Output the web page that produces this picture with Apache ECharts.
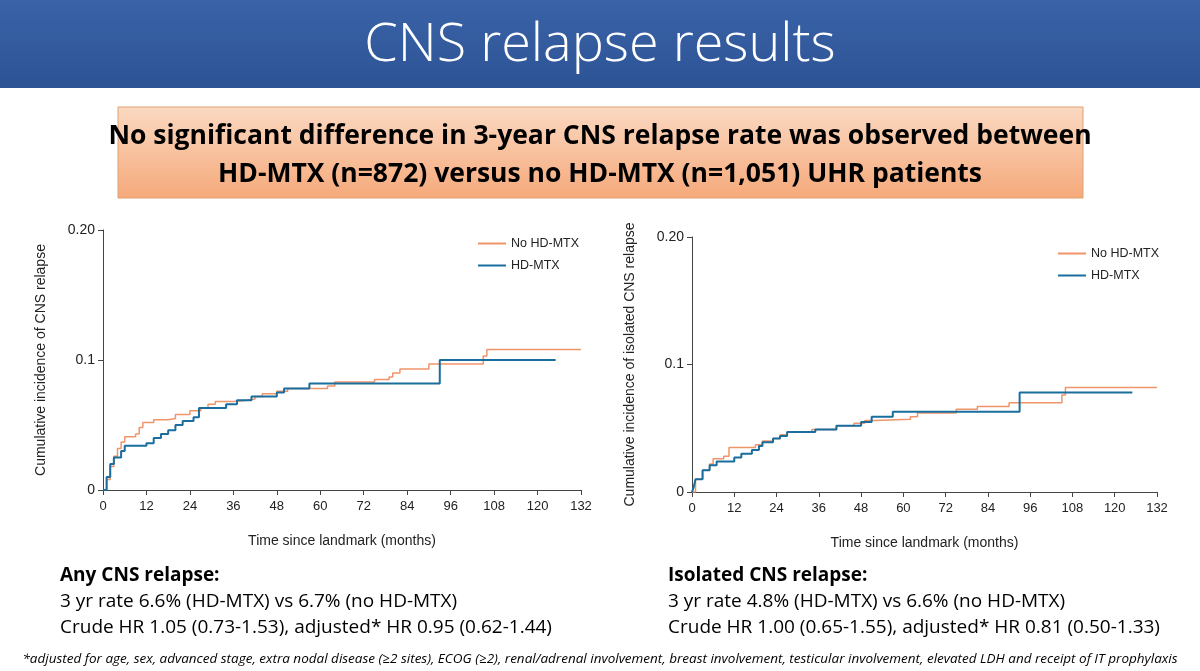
<!DOCTYPE html>
<html><head><meta charset="utf-8">
<script src="https://cdn.jsdelivr.net/npm/echarts@6/dist/echarts.min.js"></script>
<style>html,body{margin:0;padding:0;background:#fff}#c{width:1200px;height:671px}</style>
</head><body><div id="c"></div>
<script>
// [months, cumulative incidence]
const anyNoHD = [[0,0],[1,0.008],[2,0.018],[3,0.026],[4,0.032],[5,0.037],[6,0.041],[9,0.043],[10,0.048],[11,0.052],[14,0.054],[18,0.055],[20,0.058],[24,0.061],[27,0.063],[29,0.066],[31,0.068],[36,0.069],[40,0.07],[42,0.072],[44,0.074],[48,0.076],[51,0.078],[62,0.08],[64,0.083],[75,0.085],[79,0.087],[80,0.09],[82,0.093],[90,0.097],[105,0.103],[106,0.108],[132,0.108]];
const anyHD = [[0,0],[1,0.01],[2,0.02],[3,0.025],[5,0.03],[6,0.034],[10,0.034],[12,0.036],[14,0.04],[16,0.043],[18,0.046],[20,0.05],[22,0.053],[25,0.056],[26.5,0.063],[34,0.066],[37,0.069],[41,0.072],[48,0.075],[50,0.078],[57,0.082],[93,0.1],[125,0.1]];
const isoNoHD = [[0,0],[1,0.01],[3,0.017],[5,0.022],[6,0.026],[9,0.028],[10.5,0.035],[18,0.037],[20,0.04],[23,0.042],[25,0.045],[27,0.047],[34,0.049],[41,0.052],[46,0.054],[49,0.056],[52,0.057],[62,0.059],[64,0.062],[75,0.065],[81,0.067],[90,0.07],[105,0.076],[106,0.082],[132,0.082]];
const isoHD = [[0,0],[0.5,0.004],[1,0.01],[3,0.017],[5,0.021],[7,0.024],[12,0.027],[14,0.03],[17,0.033],[19,0.036],[20,0.039],[23,0.042],[25,0.044],[27,0.047],[35,0.049],[41,0.052],[48,0.055],[51,0.059],[57,0.063],[93,0.078],[125,0.078]];
const seriesNames = ['No HD-MTX', 'HD-MTX'];
const orange = '#F0956A', blue = '#1A6E9E';

const font = 'Liberation Sans, Arial, sans-serif';
const fmtY = v => v === 0.2 ? '0.20' : (v === 0.1 ? '0.1' : (v === 0 ? '0' : ''));
function xAx(i) {
  return { type: 'value', gridIndex: i, min: 0, max: 132, interval: 12,
    name: 'Time since landmark (months)', nameLocation: 'middle', nameGap: 44,
    nameTextStyle: { fontFamily: font, fontSize: 14, color: '#222' },
    axisLine: { lineStyle: { color: '#444' } }, axisTick: { lineStyle: { color: '#444' } },
    axisLabel: { fontFamily: font, fontSize: 13, color: '#222', margin: 10 }, splitLine: { show: false } };
}
function yAx(i, name) {
  return { type: 'value', gridIndex: i, min: 0, max: 0.2, interval: 0.1,
    name: name, nameLocation: 'middle', nameGap: 55,
    nameTextStyle: { fontFamily: font, fontSize: 14, color: '#222' },
    axisLine: { show: true, lineStyle: { color: '#444' } }, axisTick: { show: true, lineStyle: { color: '#444' } },
    axisLabel: { fontFamily: font, fontSize: 14, color: '#222', formatter: fmtY }, splitLine: { show: false } };
}
function ser(name, data, i, color, w) {
  return { name: name, type: 'line', step: 'end', xAxisIndex: i, yAxisIndex: i, data: data,
    symbol: 'none', lineStyle: { color: color, width: w }, itemStyle: { color: color } };
}
function leg(left, top) {
  return { data: seriesNames, orient: 'vertical', left: left, top: top, itemWidth: 28, itemHeight: 2, itemGap: 9,
    icon: 'rect', textStyle: { fontFamily: font, fontSize: 12.5, color: '#222' } };
}
const chart = echarts.init(document.getElementById('c'));
chart.setOption({
  animation: false,
  grid: [{ left: 103, right: 619, top: 230, bottom: 181 }, { left: 692, right: 43, top: 237, bottom: 179 }],
  xAxis: [xAx(0), xAx(1)],
  yAxis: [yAx(0, 'Cumulative incidence of CNS relapse'), yAx(1, 'Cumulative incidence of isolated CNS relapse')],
  legend: [leg(473, 232), leg(1053, 242)],
  series: [ser(seriesNames[0], anyNoHD, 0, orange, 1.5), ser(seriesNames[1], anyHD, 0, blue, 2),
           ser(seriesNames[0], isoNoHD, 1, orange, 1.5), ser(seriesNames[1], isoHD, 1, blue, 2)],
  graphic: [
    { type: 'rect', shape: { x: 0, y: 0, width: 1200, height: 88 },
      style: { fill: new echarts.graphic.LinearGradient(0, 0, 0, 1, [{ offset: 0, color: '#3A63A8' }, { offset: 1, color: '#2C5394' }]) } },
    { type: 'text', x: 600, y: 46, style: { text: 'CNS relapse results', fill: '#fff', font: '300 54px "Open Sans", sans-serif', textAlign: 'center', textVerticalAlign: 'middle' } },
    { type: 'rect', shape: { x: 118, y: 107, width: 965, height: 91 },
      style: { stroke: '#E0A070', lineWidth: 1, fill: new echarts.graphic.LinearGradient(0, 0, 0, 1, [{ offset: 0, color: '#FBD9C2' }, { offset: 1, color: '#F5A97A' }]) } },
    { type: 'text', x: 600, y: 136, style: { text: 'No significant difference in 3-year CNS relapse rate was observed between', fill: '#000', font: 'bold 26.5px "Open Sans", sans-serif', textAlign: 'center', textVerticalAlign: 'middle' } },
    { type: 'text', x: 600, y: 174, style: { text: 'HD-MTX (n=872) versus no HD-MTX (n=1,051) UHR patients', fill: '#000', font: 'bold 26.5px "Open Sans", sans-serif', textAlign: 'center', textVerticalAlign: 'middle' } },
    { type: 'text', x: 60, y: 566, style: { text: 'Any CNS relapse:', fill: '#000', font: 'bold 19px "Open Sans", sans-serif' } },
    { type: 'text', x: 60, y: 592, style: { text: '3 yr rate 6.6% (HD-MTX) vs 6.7% (no HD-MTX)', fill: '#000', font: '19px "Open Sans", sans-serif' } },
    { type: 'text', x: 60, y: 618, style: { text: 'Crude HR 1.05 (0.73-1.53), adjusted* HR 0.95 (0.62-1.44)', fill: '#000', font: '19px "Open Sans", sans-serif' } },
    { type: 'text', x: 668, y: 566, style: { text: 'Isolated CNS relapse:', fill: '#000', font: 'bold 19px "Open Sans", sans-serif' } },
    { type: 'text', x: 668, y: 592, style: { text: '3 yr rate 4.8% (HD-MTX) vs 6.6% (no HD-MTX)', fill: '#000', font: '19px "Open Sans", sans-serif' } },
    { type: 'text', x: 668, y: 618, style: { text: 'Crude HR 1.00 (0.65-1.55), adjusted* HR 0.81 (0.50-1.33)', fill: '#000', font: '19px "Open Sans", sans-serif' } },
    { type: 'text', x: 600, y: 659, style: { text: '*adjusted for age, sex, advanced stage, extra nodal disease (≥2 sites), ECOG (≥2), renal/adrenal involvement, breast involvement, testicular involvement, elevated LDH and receipt of IT prophylaxis', fill: '#000', font: 'italic 13.5px "Open Sans", sans-serif', textAlign: 'center', textVerticalAlign: 'middle' } }
  ]
});
</script></body></html>
